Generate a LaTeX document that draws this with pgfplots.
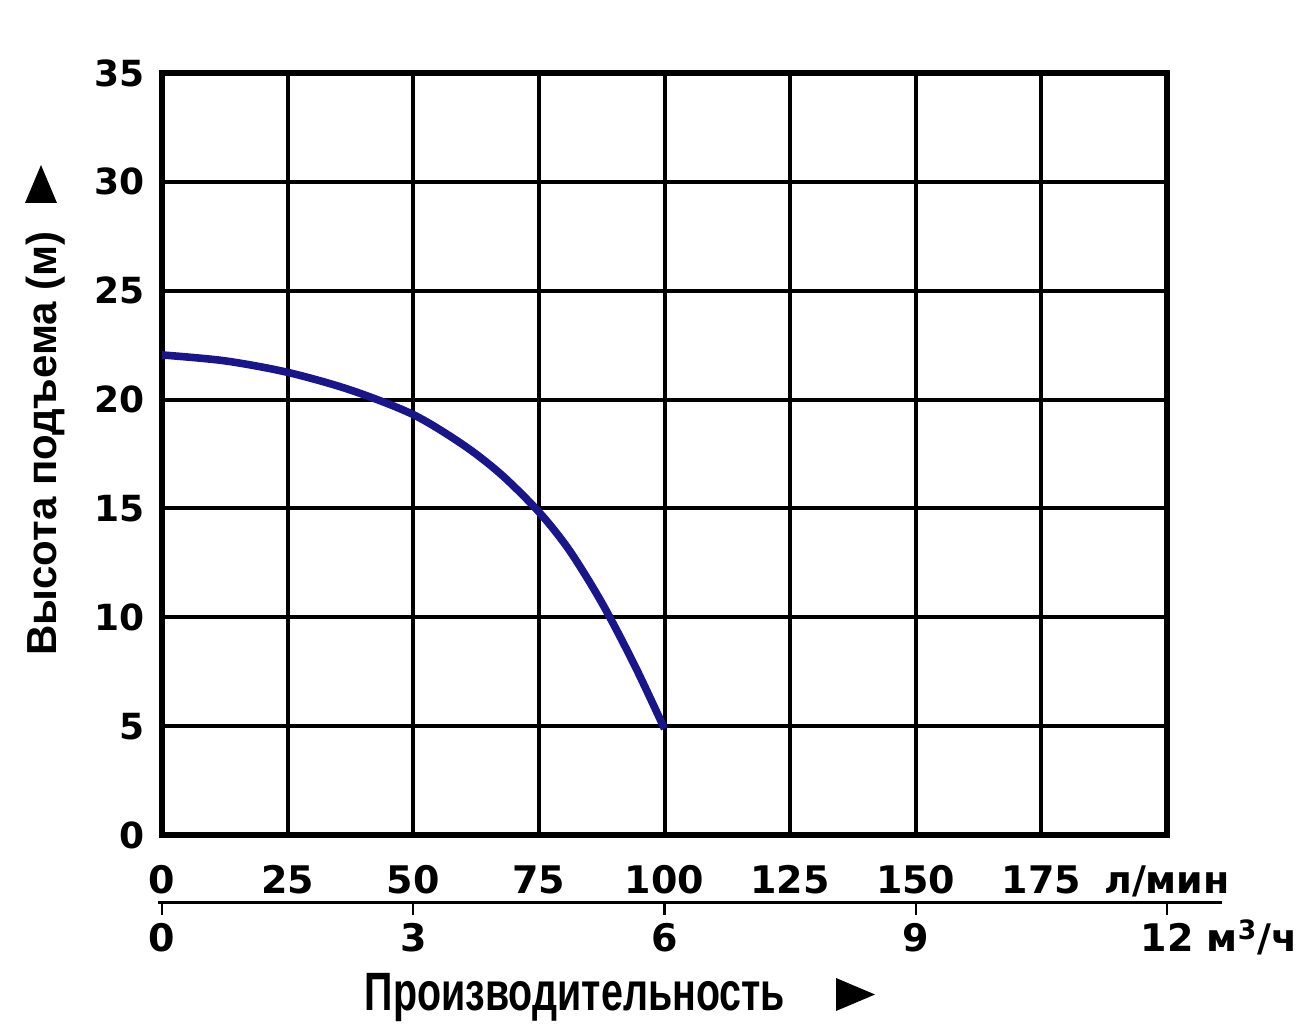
\documentclass[border=0pt]{standalone}
\usepackage{fontspec}
\setmainfont{Liberation Sans}
\newfontfamily\tickfont{DejaVu Sans}
\newfontfamily\narrowfont{Liberation Sans}[FakeStretch=0.73]
\usepackage{pgfplots}
\pgfplotsset{compat=1.18}
\definecolor{curve}{RGB}{25,22,140}

\begin{document}
\begin{tikzpicture}
\useasboundingbox (-81pt,-99.5pt) rectangle (568.5pt,417.5pt);
% main chart: head (m) vs flow (l/min)
\begin{axis}[
  at={(0pt,0pt)}, anchor=south west,
  scale only axis, width=502.5pt, height=381pt,
  xmin=0, xmax=200, ymin=0, ymax=35,
  xtick={0,25,...,200}, ytick={0,5,...,35},
  xticklabels={0,25,50,75,100,125,150,175,л/мин},
  yticklabels={0,5,10,15,20,25,30,35},
  grid=major, grid style={black, line width=2pt},
  axis line style={black, line width=2.8pt},
  major tick length=0pt,
  tick label style={inner sep=0pt},
  xticklabel style={anchor=north, yshift=-15pt, font=\tickfont\bfseries\fontsize{19}{19}\selectfont},
  yticklabel style={anchor=east, xshift=-8.5pt, font=\tickfont\bfseries\fontsize{18}{18}\selectfont},
]
\addplot[curve, line width=3.8pt, smooth] coordinates {
  (0,22.05) (12.5,21.78) (25,21.25) (37.5,20.44) (50,19.31) (60,17.91)
  (67.5,16.56) (75,14.84) (81,13.1) (87.5,10.68) (94,7.82) (100,4.88)
};
\end{axis}
% second scale: m3/h
\begin{axis}[
  at={(0pt,-33.5pt)}, anchor=south west,
  scale only axis, width=502.5pt, height=10pt,
  xmin=0, xmax=12, ymin=0, ymax=1,
  axis x line=bottom, axis y line=none,
  axis line style={-, black, line width=1.5pt, shorten <=-2pt, shorten >=-27.5pt},
  xtick={0,3,6,9,12},
  xticklabels={0,3,6,9,{12\rlap{ м\smash{\textsuperscript{3}}/ч}}},
  tick align=outside, major tick length=6.5pt,
  major tick style={black, line width=1.2pt},
  xticklabel style={anchor=north, inner sep=0pt, yshift=-4pt, font=\tickfont\bfseries\fontsize{19}{19}\selectfont},
]
\end{axis}
\node[rotate=90, anchor=base, font=\bfseries\fontsize{21}{21}\selectfont] at (-52.5pt,195.75pt) {Высота подъема (м)};
\fill (-68.5pt,316pt) -- (-52.5pt,316pt) -- (-60.5pt,335pt) -- cycle;
\node[anchor=base, font=\narrowfont\bfseries\fontsize{27}{27}\selectfont] at (206.5pt,-87.5pt) {Производительность};
\fill (337pt,-71.5pt) -- (356.5pt,-79.75pt) -- (337pt,-88pt) -- cycle;
\end{tikzpicture}
\end{document}
